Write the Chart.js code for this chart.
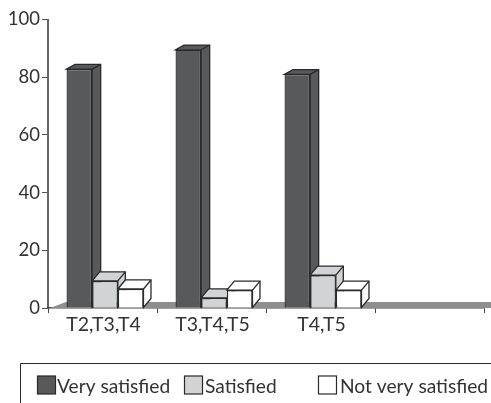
<!DOCTYPE html>
<html><head><meta charset="utf-8">
<style>html,body{margin:0;padding:0;background:#fff}#w{position:relative;width:491px;height:403px}canvas{display:block}</style>
<script src="https://cdn.jsdelivr.net/npm/chart.js@4"></script></head>
<body><div id="w"><canvas id="c" width="491" height="403"></canvas></div>
<script>
const categories = ['T2,T3,T4', 'T3,T4,T5', 'T4,T5', ''];
const verySatisfied = [82.8, 89.5, 81, null];
const satisfied = [9.4, 3.5, 11.4, null];
const notVerySatisfied = [6.6, 6.2, 6.2, null];
const yTicks = [0, 20, 40, 60, 80, 100];
const seriesNames = ['Very satisfied', 'Satisfied', 'Not very satisfied'];
const FONT = 'Lato';
const INK = '#2b2a2b';
const fills = ['#58595b', '#d1d3d4', '#ffffff'];
const depth = [[8.5, 4.7], [7.5, 9], [7.5, 9]];
const legendPos = [[37, 57], [184, 205], [318, 340]];
const BAR_SHIFT = 2.5;

const shade3d = {
  id: 'shade3d',
  afterDatasetsUpdate(ch) {
    ch.data.datasets.forEach((d, idx) => {
      ch.getDatasetMeta(idx).data.forEach(bar => { bar.x += BAR_SHIFT; });
    });
  },
  beforeDatasetsDraw(ch) {
    const {ctx, chartArea: a} = ch;
    ctx.save();
    ctx.fillStyle = '#8e8e8e';
    ctx.beginPath();
    ctx.moveTo(a.left + 2, a.bottom);
    ctx.lineTo(a.left + 18, a.bottom - 6);
    ctx.lineTo(491, a.bottom - 6);
    ctx.lineTo(491, a.bottom);
    ctx.closePath();
    ctx.fill();
    ctx.strokeStyle = INK;
    ctx.lineWidth = 1.3;
    ch.data.datasets.forEach((ds, idx) => {
      const [dx, dy] = depth[idx];
      ctx.fillStyle = fills[idx];
      ch.getDatasetMeta(idx).data.forEach((bar, i) => {
        if (ds.data[i] === null) return;
        const p = bar.getProps(['x', 'y', 'base', 'width'], true);
        const L = p.x - p.width / 2, R = p.x + p.width / 2;
        ctx.beginPath();
        ctx.moveTo(L, p.y);
        ctx.lineTo(L + dx, p.y - dy);
        ctx.lineTo(R + dx, p.y - dy);
        ctx.lineTo(R + dx, p.base - dy);
        ctx.lineTo(R, p.base);
        ctx.lineTo(R, p.y);
        ctx.closePath();
        ctx.fill();
        ctx.stroke();
        ctx.beginPath();
        ctx.moveTo(R, p.y);
        ctx.lineTo(R + dx, p.y - dy);
        ctx.stroke();
      });
    });
    ctx.restore();
  },
  afterDraw(ch) {
    const {ctx} = ch;
    ctx.save();
    ctx.strokeStyle = INK;
    ctx.lineWidth = 1;
    ctx.beginPath();
    ctx.moveTo(20.5, 403);
    ctx.lineTo(20.5, 363.5);
    ctx.lineTo(491, 363.5);
    ctx.stroke();
    ctx.font = '19.2px ' + FONT;
    ctx.textBaseline = 'alphabetic';
    seriesNames.forEach((name, i) => {
      const [bx, tx] = legendPos[i];
      ctx.fillStyle = fills[i];
      ctx.lineWidth = 1.2;
      ctx.fillRect(bx + .5, 376, 18, 18);
      ctx.strokeRect(bx + .5, 376, 18, 18);
      ctx.fillStyle = '#333';
      ctx.fillText(name, tx, 393);
    });
    ctx.restore();
  }
};

const mk = (label, data, i) => ({
  label, data,
  backgroundColor: fills[i],
  borderColor: INK,
  borderWidth: 1.3,
  categoryPercentage: 0.706,
  barPercentage: 1
});

new Chart(document.getElementById('c'), {
  type: 'bar',
  data: {
    labels: categories,
    datasets: [mk(seriesNames[0], verySatisfied, 0), mk(seriesNames[1], satisfied, 1), mk(seriesNames[2], notVerySatisfied, 2)]
  },
  options: {
    responsive: false,
    animation: false,
    layout: {padding: {top: 19.5, right: 7, bottom: 0, left: 0}},
    plugins: {legend: {display: false}, tooltip: {enabled: false}},
    scales: {
      y: {
        min: 0, max: 100,
        afterFit(s) { s.width = 48; },
        afterBuildTicks(s) { s.ticks = yTicks.map(v => ({value: v})); },
        border: {color: '#666', width: 2},
        grid: {drawOnChartArea: false, drawTicks: true, tickLength: 6, color: '#555', lineWidth: 1},
        ticks: {font: {family: FONT, size: 18.5}, color: '#333', padding: 2}
      },
      x: {
        afterFit(s) { s.height = 95; },
        border: {color: '#444', width: 1.5},
        grid: {drawOnChartArea: false, drawTicks: true, tickLength: 5, color: '#444', lineWidth: 1},
        ticks: {font: {family: FONT, size: 19.5}, color: '#333', padding: 0, labelOffset: 1, maxRotation: 0, autoSkip: false}
      }
    }
  },
  plugins: [shade3d]
});
</script></body></html>
